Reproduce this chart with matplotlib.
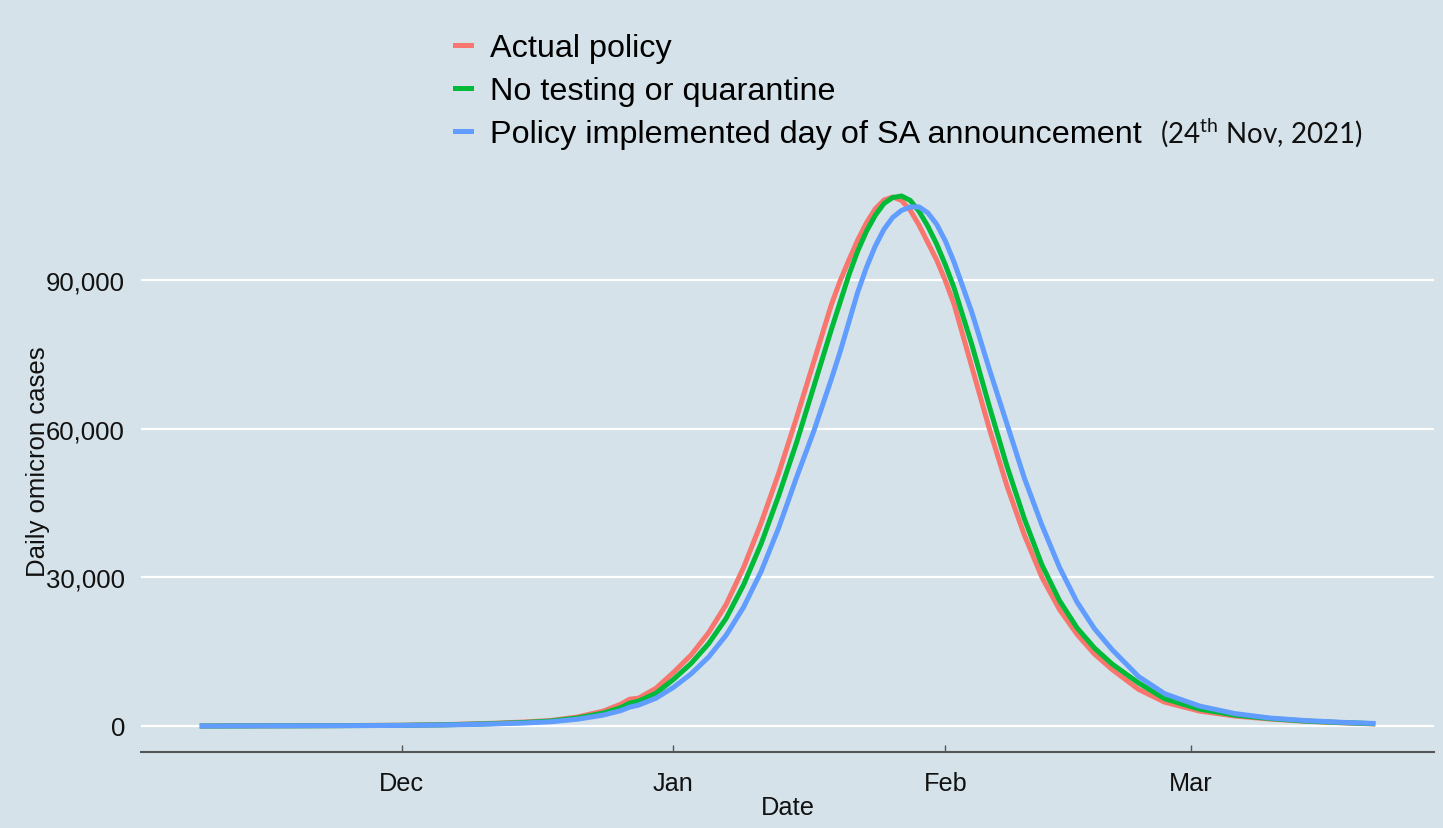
import pandas as pd
import matplotlib
matplotlib.use('Agg')
import matplotlib.pyplot as plt
from matplotlib.lines import Line2D

# Values
dates = ['2021-11-08', '2021-11-17', '2021-11-24', '2021-12-01', '2021-12-06', '2021-12-11',
         '2021-12-15', '2021-12-18', '2021-12-21', '2021-12-24', '2021-12-26', '2021-12-27',
         '2021-12-28', '2021-12-30', '2022-01-01', '2022-01-03', '2022-01-05', '2022-01-07',
         '2022-01-09', '2022-01-11', '2022-01-13', '2022-01-15', '2022-01-17', '2022-01-19',
         '2022-01-20', '2022-01-21', '2022-01-22', '2022-01-23', '2022-01-24', '2022-01-25',
         '2022-01-26', '2022-01-27', '2022-01-28', '2022-01-29', '2022-01-30', '2022-01-31',
         '2022-02-01', '2022-02-02', '2022-02-04', '2022-02-06', '2022-02-08', '2022-02-10',
         '2022-02-12', '2022-02-14', '2022-02-16', '2022-02-18', '2022-02-20', '2022-02-23',
         '2022-02-26', '2022-03-02', '2022-03-06', '2022-03-10', '2022-03-14', '2022-03-18',
         '2022-03-22']

actual_policy = [0, 40, 80, 150, 280, 520, 800, 1100, 1800, 3000, 4400, 5400,
                 5600, 7600, 10800, 14300, 18800, 24500, 32000, 41000, 51000, 62000, 73500, 85000,
                 89800, 94000, 98000, 101500, 104300, 106100, 106700, 106000, 104000, 101000, 97500, 94000,
                 89800, 85000, 72500, 60000, 48500, 38500, 30000, 23500, 18500, 14500, 11400, 7400,
                 4800, 3000, 2000, 1400, 950, 650, 400]

no_testing = [0, 30, 70, 130, 240, 450, 700, 1000, 1600, 2600, 3700, 4600,
              5000, 6600, 9400, 12600, 16600, 21700, 28500, 36800, 46500, 57000, 68500, 80000,
              85500, 91000, 95800, 99800, 103000, 105400, 106600, 106900, 106000, 103800, 100800, 97200,
              93000, 88300, 77000, 64500, 52500, 41800, 32500, 25300, 19800, 15700, 12500, 8700,
              5500, 3400, 2200, 1500, 1000, 700, 450]

sa_announcement = [0, 30, 60, 110, 200, 380, 600, 850, 1350, 2200, 3100, 3800,
                   4200, 5600, 7800, 10500, 13900, 18300, 24000, 31200, 40000, 50000, 59500, 70000,
                   75500, 81500, 87500, 92500, 96800, 100200, 102600, 104000, 104700, 104700, 103500, 101200,
                   97800, 93500, 83500, 72000, 61000, 50000, 40500, 32000, 25000, 19600, 15400, 10000,
                   6500, 4000, 2500, 1600, 1100, 750, 500]

series_labels = ['Actual policy', 'No testing or quarantine', 'Policy implemented day of SA announcement']
series_colors = ['#F8766D', '#00BA38', '#619CFF']

y_ticks = [0, 30000, 60000, 90000]
y_tick_labels = ['0', '30,000', '60,000', '90,000']
x_ticks = ['2021-12-01', '2022-01-01', '2022-02-01', '2022-03-01']
x_tick_labels = ['Dec', 'Jan', 'Feb', 'Mar']

bg = '#d5e2e9'
txt = '#111111'
plt.rcParams['font.family'] = 'Liberation Sans'
plt.rcParams['mathtext.fontset'] = 'custom'
plt.rcParams['mathtext.rm'] = 'Lato'
plt.rcParams['mathtext.default'] = 'rm'

x = pd.to_datetime(dates)

fig = plt.figure(figsize=(14.43, 8.29), dpi=100, facecolor=bg)
ax = fig.add_axes([0.0977, 0.0911, 0.8961, 0.7032])
ax.set_facecolor(bg)

handles = []
for vals, lab, col in zip([actual_policy, no_testing, sa_announcement], series_labels, series_colors):
    ax.plot(x, vals, color=col, lw=3.6, solid_capstyle='butt')
    handles.append(Line2D([0], [0], color=col, lw=3.6))

start = pd.Timestamp('2022-01-01')
ax.set_xlim(start - pd.Timedelta(days=60.7), start + pd.Timedelta(days=86.7))
ax.set_ylim(-5345, 112245)

ax.grid(axis='y', color='white', lw=1.6)
ax.set_axisbelow(True)
for s in ['top', 'right', 'left']:
    ax.spines[s].set_visible(False)
ax.spines['bottom'].set_color('#555555')
ax.spines['bottom'].set_linewidth(1.5)

ax.set_yticks(y_ticks)
ax.set_yticklabels(y_tick_labels, fontsize=18.5, color=txt)
ax.set_xticks(pd.to_datetime(x_ticks))
ax.set_xticklabels(x_tick_labels, fontsize=18.2, color=txt)
ax.tick_params(axis='y', length=0, pad=11.5)
ax.tick_params(axis='x', direction='in', length=5, width=1, color='#555555', pad=13.5)

ax.set_xlabel('Date', fontsize=18.3, color=txt, labelpad=0)
ax.set_ylabel('Daily omicron cases', fontsize=18.5, color=txt)
ax.yaxis.set_label_coords(-0.0705, 0.5)

fig.legend(handles, series_labels, loc='upper left', bbox_to_anchor=(455 / 1443, 1 - 34 / 829),
           frameon=False, handlelength=0.5, handletextpad=0.58, labelspacing=0.4,
           borderpad=0, borderaxespad=0, prop={'size': 23.3})

fig.text(1160 / 1443, 1 - 133 / 829, '(24$^{th}$ Nov, 2021)', fontsize=20, family='Lato',
         va='center', ha='left', color=txt)

fig.savefig('out.png', dpi=100, facecolor=bg)
